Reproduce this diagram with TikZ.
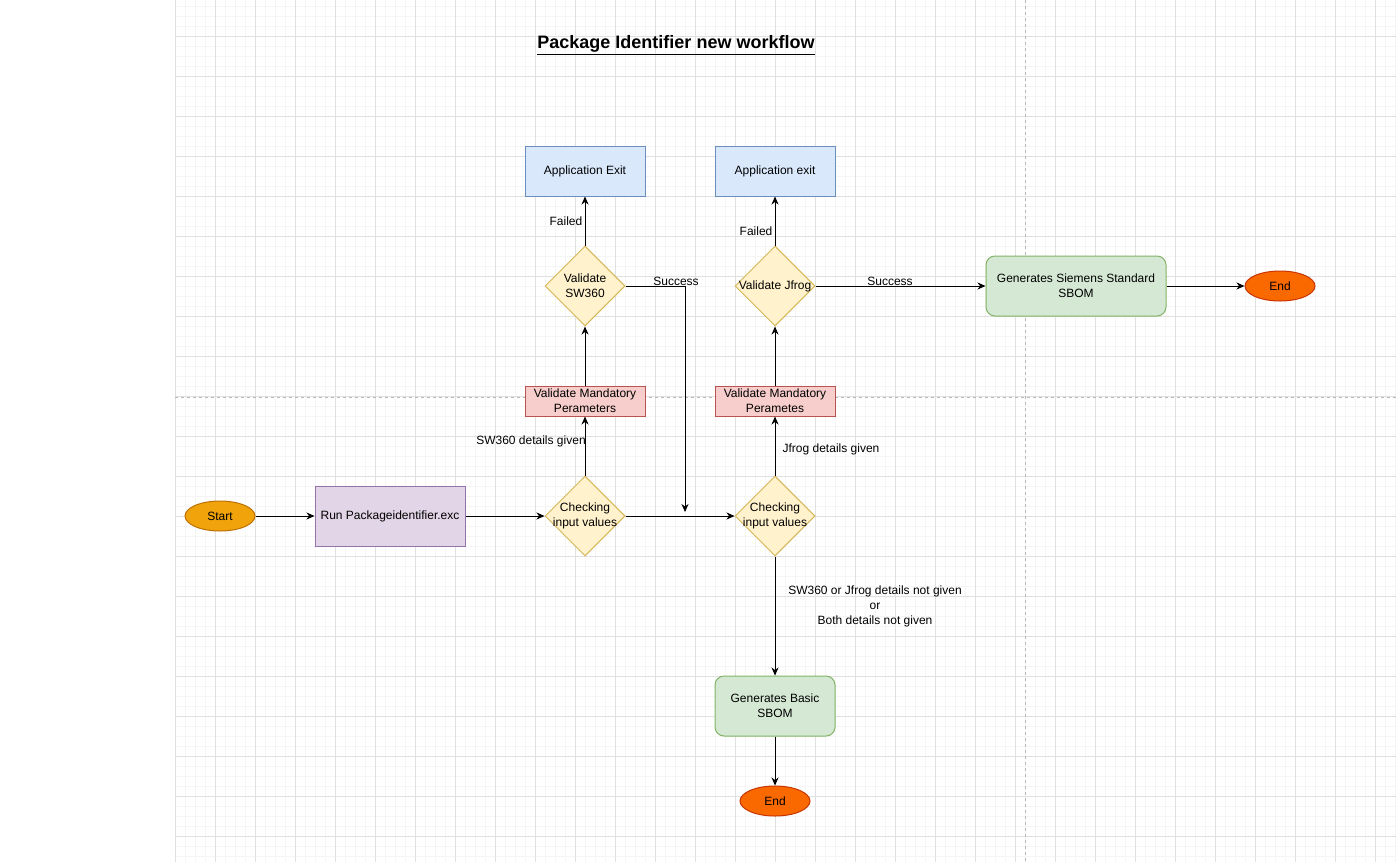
\documentclass[tikz,border=0pt]{standalone}
\usepackage{fontspec}
\setmainfont{Liberation Sans}
\usetikzlibrary{shapes.geometric,arrows.meta}

\definecolor{startfill}{HTML}{F0A30A}
\definecolor{startline}{HTML}{BD7000}
\definecolor{endfill}{HTML}{FA6800}
\definecolor{endline}{HTML}{C73500}
\definecolor{runfill}{HTML}{E1D5E7}
\definecolor{runline}{HTML}{9673A6}
\definecolor{decfill}{HTML}{FFF2CC}
\definecolor{decline}{HTML}{D6B656}
\definecolor{mandfill}{HTML}{F8CECC}
\definecolor{mandline}{HTML}{B85450}
\definecolor{exitfill}{HTML}{DAE8FC}
\definecolor{exitline}{HTML}{6C8EBF}
\definecolor{sbomfill}{HTML}{D5E8D4}
\definecolor{sbomline}{HTML}{82B366}

\begin{document}
\begin{tikzpicture}[x=1pt, y=-1pt, line width=1pt,
    every node/.style={inner sep=0pt, align=center, font=\fontsize{12}{15}\selectfont},
    minor/.style={draw=black!4},
    major/.style={draw=black!12},
    pageline/.style={draw=black!28, dash pattern=on 3pt off 3pt},
    flow/.style={draw=black, -{Stealth[length=8pt,width=7pt,inset=2.5pt]}},
    ttl/.style={font=\fontsize{18}{22}\selectfont},
    terminal/.style={ellipse, minimum width=70, minimum height=30},
    startnode/.style={terminal, fill=startfill, draw=startline},
    endnode/.style={terminal, fill=endfill, draw=endline},
    runbox/.style={rectangle, minimum width=150, minimum height=60, fill=runfill, draw=runline},
    decision/.style={diamond, minimum width=80, minimum height=80, fill=decfill, draw=decline},
    mandbox/.style={rectangle, minimum width=120, minimum height=30, fill=mandfill, draw=mandline},
    exitbox/.style={rectangle, minimum width=120, minimum height=50, fill=exitfill, draw=exitline},
    sbombox/.style={rectangle, rounded corners=9pt, minimum height=60, fill=sbomfill, draw=sbomline}]
            \useasboundingbox (0,0) rectangle (1396,862);
            % canvas grid
            \fill [white] (0,0) rectangle (1396,862);
            \foreach \gx in {185,195,...,1395} \draw [minor] (\gx,0) -- (\gx,862);
            \foreach \gy in {6,16,...,856} \draw [minor] (175,\gy) -- (1396,\gy);
            \foreach \gx in {215,255,...,1375} \draw [major] (\gx,0) -- (\gx,862);
            \foreach \gy in {36,76,...,836} \draw [major] (175,\gy) -- (1396,\gy);
            \draw [major] (175,0) -- (175,862);
            \draw [pageline] (1025,0) -- (1025,862);
            \draw [pageline] (175,397) -- (1396,397);
            % title
            \node [ttl] (title) at (676,45) {\underline{\textbf{Package Identifier new workflow}}};
            % shapes
            \node [startnode] (start) at (220,516) {Start};
            \node [runbox] (run) at (390,516) {Run Packageidentifier.exc};
            \node [decision, label={center:Checking\\input values}] (chk1) at (585,516) {};
            \node [decision, label={center:Checking\\input values}] (chk2) at (775,516) {};
            \node [mandbox] (mand1) at (585,401) {Validate Mandatory\\Perameters};
            \node [mandbox] (mand2) at (775,401) {Validate Mandatory\\Perametes};
            \node [decision, label={center:Validate\\SW360}] (valsw) at (585,286) {};
            \node [decision, label={center:Validate Jfrog}] (valjf) at (775,286) {};
            \node [exitbox] (exit1) at (585,171) {Application Exit};
            \node [exitbox] (exit2) at (775,171) {Application exit};
            \node [sbombox, minimum width=180] (full) at (1076,286) {Generates Siemens Standard\\SBOM};
            \node [endnode] (end1) at (1280,286) {End};
            \node [sbombox, minimum width=120] (basic) at (775,706) {Generates Basic\\SBOM};
            \node [endnode] (end2) at (775,801) {End};
            % labels
            \node (lfail1) at (566,221) {Failed};
            \node (lfail2) at (756,231) {Failed};
            \node (lsucc1) at (676,281) {Success};
            \node (lsucc2) at (890,281) {Success};
            \node (lsw) at (531,441) {SW360 details given};
            \node (ljf) at (831,449) {Jfrog details given};
            \node (lnone) at (875,606) {SW360 or Jfrog details not given\\or\\Both details not given};
            % connectors
            \coordinate (join) at (685,512);
            \draw [flow] (start) -- (run);
            \draw [flow] (run) -- (chk1);
            \draw [flow] (chk1) -- (chk2);
            \draw [flow] (chk1) -- (mand1);
            \draw [flow] (mand1) -- (valsw);
            \draw [flow] (valsw) -- (exit1);
            \draw [flow] (valsw.east) -| (join);
            \draw [flow] (chk2) -- (mand2);
            \draw [flow] (mand2) -- (valjf);
            \draw [flow] (valjf) -- (exit2);
            \draw [flow] (valjf) -- (full);
            \draw [flow] (full) -- (end1);
            \draw [flow] (chk2) -- (basic);
            \draw [flow] (basic) -- (end2);
        \end{tikzpicture}
\end{document}
